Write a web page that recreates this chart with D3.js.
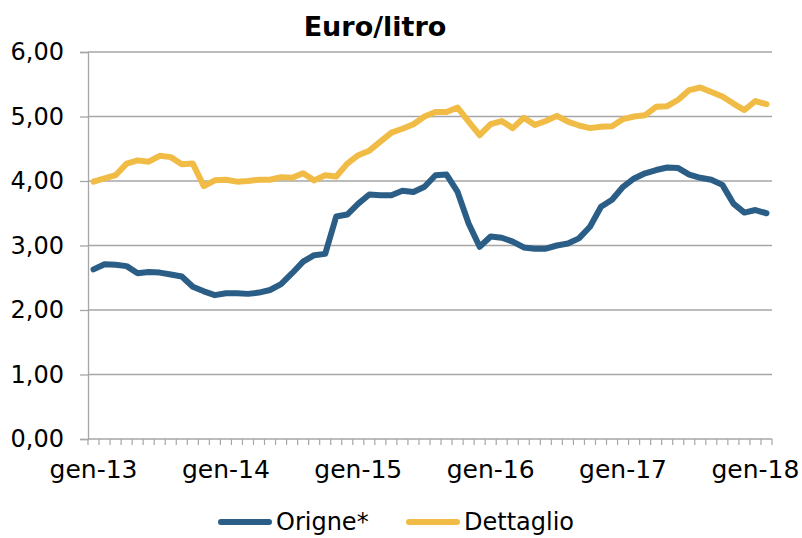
<!DOCTYPE html>
<html>
<head>
<meta charset="utf-8">
<script src="https://cdn.jsdelivr.net/npm/d3@7"></script>
<style>
  html, body { margin: 0; padding: 0; background: #fff; }
  svg { display: block; }
  text { font-family: "DejaVu Sans", sans-serif; fill: #000; }
</style>
</head>
<body>
<svg id="chart" width="802" height="538"></svg>
<script>
// ---- data ----
const monthNames = ["gen","feb","mar","apr","mag","giu","lug","ago","set","ott","nov","dic"];
const years = ["13","14","15","16","17","18"];
const nPoints = 62; // gen-13 .. feb-18
const tickLabels = ["gen-13","gen-14","gen-15","gen-16","gen-17","gen-18"];
const yTicks = [0, 1, 2, 3, 4, 5, 6];

const origine = [
  2.63, 2.71, 2.70, 2.68, 2.57, 2.59, 2.58, 2.55, 2.52, 2.36, 2.29, 2.23,
  2.26, 2.26, 2.25, 2.27, 2.31, 2.40, 2.57, 2.75, 2.85, 2.87, 3.45, 3.48,
  3.65, 3.79, 3.78, 3.78, 3.85, 3.83, 3.91, 4.09, 4.10, 3.83, 3.34, 2.98,
  3.14, 3.12, 3.06, 2.97, 2.95, 2.95, 3.00, 3.03, 3.11, 3.29, 3.60, 3.71,
  3.91, 4.04, 4.12, 4.17, 4.21, 4.20, 4.10, 4.05, 4.02, 3.94, 3.65, 3.51,
  3.55, 3.50
];
const dettaglio = [
  3.99, 4.04, 4.09, 4.27, 4.32, 4.30, 4.39, 4.37, 4.26, 4.27, 3.92, 4.01,
  4.02, 3.99, 4.00, 4.02, 4.02, 4.06, 4.05, 4.12, 4.01, 4.09, 4.07, 4.27,
  4.40, 4.47, 4.61, 4.75, 4.81, 4.88, 5.00, 5.07, 5.07, 5.14, 4.92, 4.71,
  4.88, 4.93, 4.82, 4.98, 4.87, 4.93, 5.01, 4.92, 4.86, 4.82, 4.84, 4.85,
  4.96, 5.00, 5.02, 5.15, 5.16, 5.26, 5.41, 5.45, 5.38, 5.31, 5.20, 5.10,
  5.24, 5.19
];
const seriesNames = ["Origne*", "Dettaglio"];
const seriesColors = ["#2b5e86", "#f1bc45"];

// categories
const categories = [];
for (const yy of years) for (const m of monthNames) {
  if (categories.length < nPoints) categories.push(m + "-" + yy);
}

// ---- layout ----
const svg = d3.select("#chart");
const margin = { left: 88, right: 30, top: 52, bottom: 99 };
const W = 802, H = 538;
const x = d3.scaleBand().domain(categories).range([margin.left, W - margin.right]).padding(0);
const y = d3.scaleLinear().domain([0, 6]).range([H - margin.bottom, margin.top]);
const fmt = v => d3.format(".2f")(v).replace(".", ",");

// gridlines
svg.append("g")
  .selectAll("line").data(yTicks.filter(d => d > 0)).join("line")
  .attr("x1", margin.left).attr("x2", W - margin.right)
  .attr("y1", d => y(d)).attr("y2", d => y(d))
  .attr("stroke", "#a6a6a6").attr("stroke-width", 1.3);

// y axis
const yAxis = svg.append("g")
  .attr("transform", `translate(${margin.left},0)`)
  .call(d3.axisLeft(y).tickValues(yTicks).tickFormat(fmt).tickSize(8).tickPadding(16));
yAxis.select(".domain").attr("stroke", "#a6a6a6").attr("stroke-width", 1.3);
yAxis.selectAll(".tick line").attr("stroke", "#a6a6a6").attr("stroke-width", 1.3);
yAxis.selectAll("text").attr("font-size", 24).attr("font-family", "DejaVu Sans").attr("fill", "#000");

// x axis line & boundary ticks
const xg = svg.append("g");
xg.append("line")
  .attr("x1", margin.left).attr("x2", W - margin.right)
  .attr("y1", y(0)).attr("y2", y(0))
  .attr("stroke", "#a6a6a6").attr("stroke-width", 1.3);
const bounds = categories.map(c => x(c)).concat([x(categories[categories.length - 1]) + x.bandwidth()]);
xg.selectAll("line.tk").data(bounds).join("line").attr("class", "tk")
  .attr("x1", d => d).attr("x2", d => d)
  .attr("y1", y(0)).attr("y2", y(0) + 6)
  .attr("stroke", "#a6a6a6").attr("stroke-width", 1.2);
xg.selectAll("text").data(tickLabels).join("text")
  .attr("x", d => x(d) + x.bandwidth() / 2)
  .attr("y", y(0) + 39)
  .attr("text-anchor", "middle")
  .attr("font-size", 25)
  .text(d => d);

// lines
const seriesData = [origine, dettaglio];
const line = d3.line()
  .x((d, i) => x(categories[i]) + x.bandwidth() / 2)
  .y(d => y(d));
svg.append("g").selectAll("path").data(seriesData).join("path")
  .attr("d", d => line(d))
  .attr("fill", "none")
  .attr("stroke", (d, i) => seriesColors[i])
  .attr("stroke-width", 6)
  .attr("stroke-linejoin", "round")
  .attr("stroke-linecap", "round");

// title
svg.append("text")
  .attr("x", 375).attr("y", 36)
  .attr("text-anchor", "middle")
  .attr("font-size", 27).attr("font-weight", "bold")
  .text("Euro/litro");

// legend
const legendItems = [
  { name: seriesNames[0], color: seriesColors[0], x0: 218 },
  { name: seriesNames[1], color: seriesColors[1], x0: 406 }
];
const lg = svg.append("g");
legendItems.forEach(it => {
  lg.append("line")
    .attr("x1", it.x0 + 3).attr("x2", it.x0 + 51)
    .attr("y1", 522).attr("y2", 522)
    .attr("stroke", it.color).attr("stroke-width", 6).attr("stroke-linecap", "round");
  lg.append("text")
    .attr("x", it.x0 + 58).attr("y", 530)
    .attr("font-size", 24)
    .text(it.name);
});
</script>
</body>
</html>
